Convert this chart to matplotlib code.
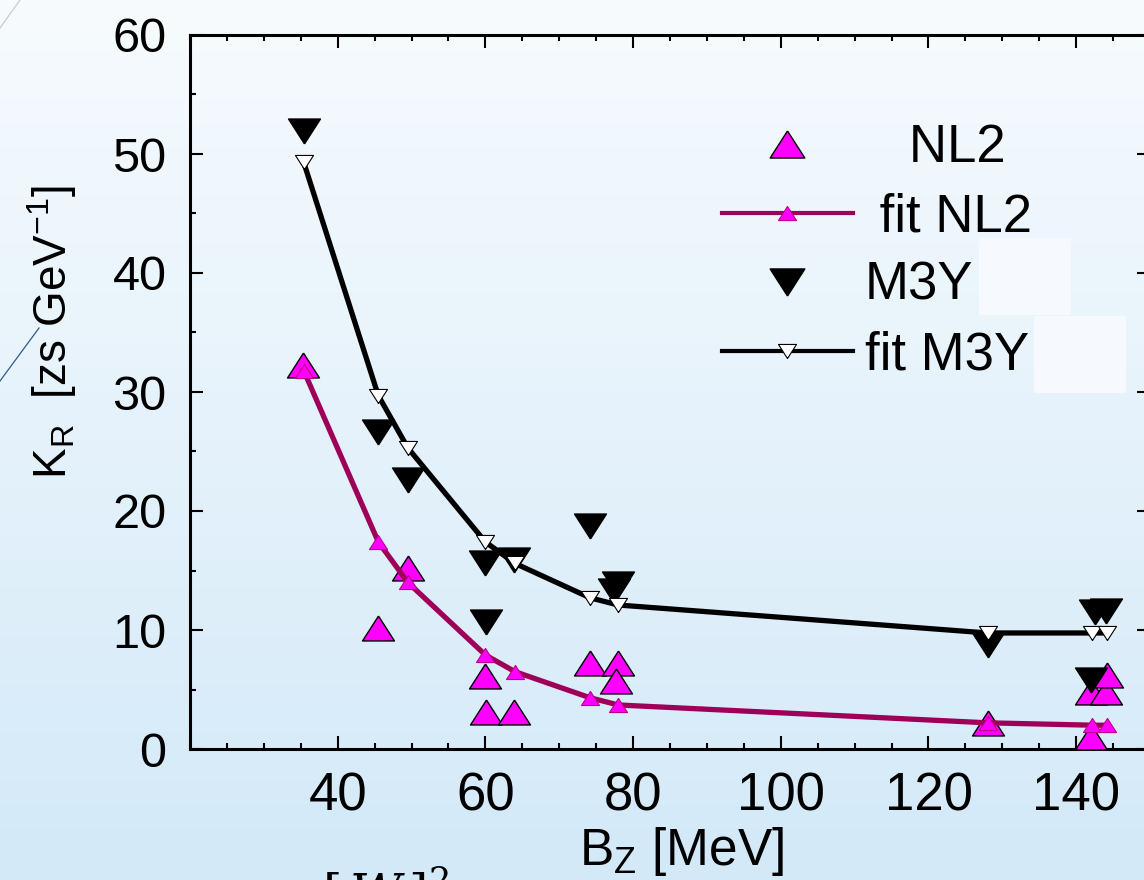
import numpy as np
import matplotlib
matplotlib.use('Agg')
import matplotlib.pyplot as plt
from matplotlib.lines import Line2D
from matplotlib.patches import Rectangle
from matplotlib.ticker import MultipleLocator, FixedLocator

plt.rcParams['font.family'] = ['Liberation Sans', 'DejaVu Sans']
plt.rcParams['mathtext.fontset'] = 'custom'
plt.rcParams['mathtext.rm'] = 'Liberation Sans'
plt.rcParams['mathtext.it'] = 'Liberation Sans:italic'
plt.rcParams['mathtext.bf'] = 'Liberation Sans:bold'

# ---------------- data ----------------
nl2_x = [35.3, 45.5, 49.5, 60.0, 60.1, 63.9, 74.2, 78.0, 77.7, 128.0, 142.0, 142.0, 144.0, 144.2]
nl2_y = [32.3, 10.2, 15.2, 6.1, 3.1, 3.1, 7.2, 7.2, 5.7, 2.2, 1.0, 4.8, 4.8, 6.2]
m3y_x = [35.4, 45.4, 49.5, 59.9, 60.1, 63.9, 74.2, 78.0, 77.4, 128.0, 142.5, 144.0, 142.0]
m3y_y = [51.9, 26.6, 22.6, 15.6, 10.7, 15.9, 18.7, 13.9, 13.3, 8.7, 11.5, 11.6, 5.8]
fit_x = [35.4, 45.5, 49.5, 60.0, 64.0, 74.2, 78.0, 128.0, 142.2, 144.2]
fit_nl2_y = [31.8, 17.4, 14.0, 7.9, 6.5, 4.3, 3.7, 2.2, 2.0, 2.0]
fit_m3y_y = [49.3, 29.7, 25.3, 17.4, 15.6, 12.7, 12.1, 9.75, 9.75, 9.75]

x_ticks = [40, 60, 80, 100, 120, 140]
y_ticks = [0, 10, 20, 30, 40, 50, 60]
labels = ['   NL2', ' fit NL2', 'M3Y', 'fit M3Y']

# ---------------- style ----------------
MAG = '#FF00FF'
FITC = '#9E0059'
TRI_UP = [(0, 0.78), (-1, -0.78), (1, -0.78), (0, 0.78)]
TRI_DN = [(0, -0.78), (-1, 0.78), (1, 0.78), (0, -0.78)]

W, H = 1144, 880
fig = plt.figure(figsize=(W / 100, H / 100), dpi=100)

# background gradient
bg = fig.add_axes([0, 0, 1, 1], zorder=-10)
top = np.array([247, 251, 254]) / 255.0
bot = np.array([211, 233, 248]) / 255.0
t = np.linspace(0, 1, 256)[:, None]
grad = (top[None, :] * (1 - t) + bot[None, :] * t)[:, None, :]
bg.imshow(grad, aspect='auto', extent=[0, 1, 0, 1])
bg.axis('off')

# slide decorations
fig.add_artist(Rectangle((979 / W, (H - 315) / H), 92 / W, 77 / H, transform=fig.transFigure,
                         fc='#F6FAFE', ec='none', zorder=-5))
fig.add_artist(Rectangle((1034 / W, (H - 393) / H), 92 / W, 77 / H, transform=fig.transFigure,
                         fc='#F6FAFE', ec='none', zorder=-5))
fig.add_artist(Line2D([0, 39 / W], [(H - 381) / H, (H - 328) / H], transform=fig.transFigure,
                      color='#2E5A8C', lw=0.9, zorder=-5))
fig.add_artist(Line2D([0, 20 / W], [(H - 28) / H, 1.0], transform=fig.transFigure,
                      color='#B8C8D8', lw=0.8, zorder=-5))

ax = fig.add_axes([190 / W, (H - 749) / H, (1150 - 190) / W, (749 - 35) / H])
ax.set_facecolor('none')

ax.plot(nl2_x, nl2_y, ls='none', marker=TRI_UP, ms=23, mfc=MAG, mec='black', mew=1.0, zorder=3)
ax.plot(m3y_x, m3y_y, ls='none', marker=TRI_DN, ms=23, mfc='black', mec='black', mew=1.0, zorder=3)
ax.plot(fit_x, fit_nl2_y, color=FITC, lw=3.8, marker=TRI_UP, ms=13, mfc=MAG, mec='#C0008A',
        mew=0.8, zorder=4)
ax.plot(fit_x, fit_m3y_y, color='black', lw=3.8, marker=TRI_DN, ms=13, mfc='white', mec='black',
        mew=0.8, zorder=4)

ax.set_xlim(20, 150)
ax.set_ylim(0, 60)
ax.xaxis.set_major_locator(FixedLocator(x_ticks))
ax.xaxis.set_minor_locator(MultipleLocator(5))
ax.yaxis.set_major_locator(FixedLocator(y_ticks))
ax.yaxis.set_minor_locator(MultipleLocator(5))
for s in ax.spines.values():
    s.set_linewidth(2.2)
ax.tick_params(which='both', direction='in', top=True, right=True, width=1.5, color='black')
ax.tick_params(which='major', length=9.5)
ax.tick_params(which='minor', length=4.5)
ax.tick_params(axis='x', labelsize=38, pad=16)
ax.tick_params(axis='y', labelsize=35, pad=17)

fig.text(681 / W, 15 / H, r'B$_\mathregular{Z}$ [MeV]', ha='center', va='baseline', fontsize=37)
fig.text(52 / W, (H - 332) / H, r'K$_\mathregular{R}$  [zs GeV$^\mathregular{ -1}$]',
         rotation=90, ha='center', va='center', fontsize=33)
fig.text(322 / W, -0.035, r'$[\,W\,]^2$', fontsize=36, math_fontfamily='dejavuserif')

handles = [
    Line2D([], [], ls='none', marker=TRI_UP, ms=25, mfc=MAG, mec='black', mew=1.0),
    Line2D([], [], color=FITC, lw=3, marker=TRI_UP, ms=13, mfc=MAG, mec='#C0008A', mew=0.8),
    Line2D([], [], ls='none', marker=TRI_DN, ms=25, mfc='black', mec='black', mew=1.0),
    Line2D([], [], color='black', lw=3, marker=TRI_DN, ms=13, mfc='white', mec='black', mew=0.8),
]
ax.legend(handles, labels, loc='upper left', bbox_to_anchor=(722 / W, (H - 123) / H),
          bbox_transform=fig.transFigure, frameon=False, fontsize=38, handlelength=2.48,
          handletextpad=0.23, labelspacing=0.36, borderpad=0, borderaxespad=0, numpoints=1)

fig.savefig('out.png', dpi=100)
